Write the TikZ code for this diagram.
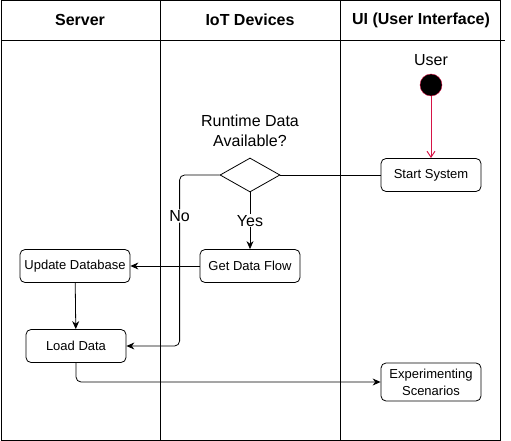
\documentclass[tikz,border=0pt]{standalone}
\usepackage{fontspec}
\setmainfont{Liberation Sans}
\usetikzlibrary{positioning, calc, arrows.meta, shapes.geometric}
\definecolor{userred}{RGB}{214,20,70}

\begin{document}
\begin{tikzpicture}[x=1pt, y=-1pt,
    every node/.style={font=\fontsize{13}{17}\selectfont},
    lane/.style={draw, line width=1pt},
    head/.style={font=\bfseries\fontsize{16}{18}\selectfont},
    big/.style={font=\fontsize{16}{20}\selectfont},
    box/.style={draw, line width=0.8pt, rounded corners=5pt, minimum width=100pt, minimum height=33pt, inner sep=1pt, align=center},
    flow/.style={-{Stealth[length=8pt, width=7pt]}, line width=0.8pt}]
    \useasboundingbox (0,0) rectangle (511,441);

    % Swimlanes
    \draw[lane] (1.5,1) rectangle (500.5,440);
    \draw[lane] (1.5,40.5) -- (505,40.5);
    \draw[lane] (160.5,1) -- (160.5,440);
    \draw[lane] (340.5,1) -- (340.5,440);
    \node[head] (server) at (80,20) {Server};
    \node[head] (iot) at (250,20) {IoT Devices};
    \node[head] (ui) at (421,20) {UI (User Interface)};

    % UI lane
    \node[big] (userlbl) at (431,60) {User};
    \node[circle, fill=black, draw=userred, minimum size=22pt, inner sep=0pt] (user) at (431,85) {};
    \node[box] (start) at (431,175) {Start System};
    \draw[-{Straight Barb[length=6pt, width=8pt]}, userred, line width=1pt] (user) -- (start);

    % IoT lane
    \node[diamond, draw, minimum width=60pt, minimum height=34pt, inner sep=0pt, line width=0.8pt] (avail) at (250,175) {};
    \node[big, align=center] (question) at (250,131) {Runtime Data\\Available?};
    \node[box] (getdata) at (250,266) {Get Data Flow};
    \draw[line width=0.8pt] (avail.east) -- (start.west);
    \draw[flow] (avail.south) -- node[big, fill=white, inner sep=1pt] {Yes} (getdata.north);

    % Server lane
    \node[box, minimum width=110pt] (update) at (75,266) {Update Database};
    \node[box] (load) at (76,346) {Load Data};
    \node[box, minimum height=38pt] (exper) at (431,382) {Experimenting\\Scenarios};
    \draw[flow] (getdata) -- (update);
    \draw[flow] (update) -- (load);
    \draw[flow, rounded corners=5pt] (avail.west) -- ++(-40,0) |- node[pos=0.12, big, fill=white, inner sep=1pt] {No} (load.east);
    \draw[flow, rounded corners=5pt] (load.south) |- (exper.west);
\end{tikzpicture}
\end{document}
